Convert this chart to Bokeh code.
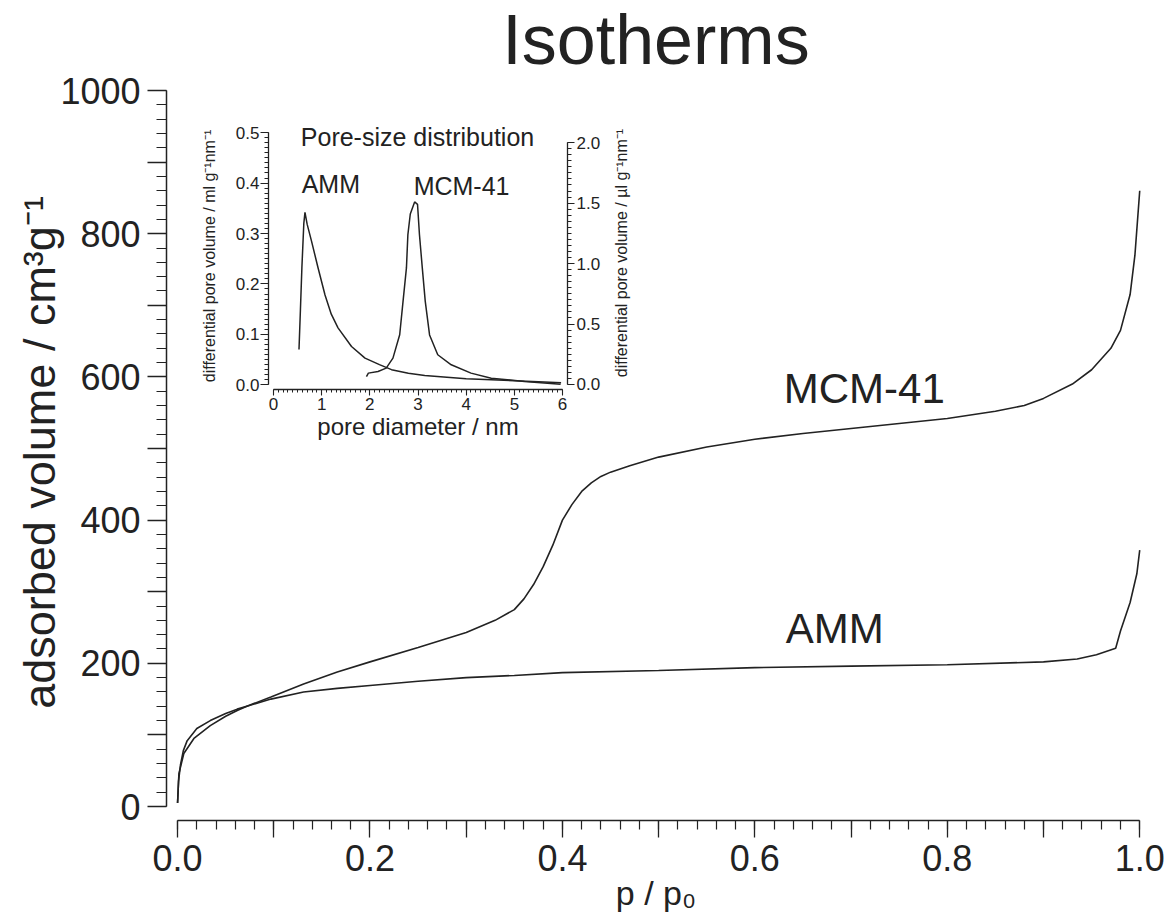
from bokeh.plotting import figure
from bokeh.models import Range1d, FixedTicker, CustomJSTickFormatter, LinearAxis, Div
from bokeh.core.properties import value
from bokeh.layouts import column
from bokeh.embed import file_html
from bokeh.resources import INLINE

# ---------------- data: main isotherms ----------------
amm_p = [0.0, 0.001, 0.003, 0.006, 0.010, 0.020, 0.034, 0.050, 0.062, 0.072, 0.097,
         0.131, 0.166, 0.20, 0.25, 0.30, 0.35, 0.40, 0.50, 0.60, 0.70, 0.80, 0.90,
         0.935, 0.955, 0.975, 0.98, 0.99, 0.997, 1.0]
amm_v = [5, 35, 58, 78, 92, 109, 120, 130, 136, 140, 150,
         160, 165, 169, 175, 180, 183, 187, 190, 194, 196, 198, 202,
         206, 212, 221, 245, 285, 325, 358]

mcm_p = [0.0, 0.0014, 0.0065, 0.017, 0.034, 0.050, 0.062, 0.072, 0.097, 0.131, 0.166,
         0.20, 0.25, 0.30, 0.33, 0.35, 0.36, 0.37, 0.38, 0.39, 0.40, 0.41, 0.42, 0.43,
         0.44, 0.45, 0.47, 0.50, 0.55, 0.60, 0.65, 0.70, 0.75, 0.80, 0.85, 0.88, 0.90,
         0.93, 0.95, 0.97, 0.98, 0.99, 0.995, 1.0]
mcm_v = [5, 46, 74, 95, 113, 126, 134, 140, 153, 171, 188,
         202, 222, 243, 260, 275, 290, 310, 335, 365, 400, 422, 440, 452,
         461, 467, 476, 488, 502, 513, 521, 528, 535, 542, 552, 560, 570,
         590, 610, 640, 665, 715, 770, 860]

# ---------------- data: inset pore-size distribution ----------------
amm_d = [0.53, 0.56, 0.59, 0.63, 0.654, 0.70, 0.79, 0.925, 1.07, 1.20, 1.34, 1.62,
         1.90, 2.20, 2.45, 2.80, 3.14, 3.60, 4.00, 4.52, 5.00, 5.50, 5.97]
amm_dv = [0.070, 0.15, 0.232, 0.32, 0.342, 0.318, 0.285, 0.232, 0.178, 0.140, 0.113, 0.076,
          0.053, 0.040, 0.030, 0.023, 0.0185, 0.015, 0.012, 0.010, 0.008, 0.006, 0.004]

mcm_d = [1.93, 1.97, 2.17, 2.34, 2.48, 2.62, 2.69, 2.76, 2.79, 2.84, 2.93, 2.99, 3.03,
         3.09, 3.15, 3.24, 3.41, 3.69, 4.10, 4.52, 5.21, 5.96]
mcm_dv = [0.066, 0.094, 0.108, 0.135, 0.218, 0.411, 0.69, 0.964, 1.24, 1.41, 1.51, 1.49, 1.24,
          0.96, 0.69, 0.41, 0.246, 0.163, 0.094, 0.052, 0.025, 0.003]

# ---------------- ticks / labels ----------------
x_major = [0.0, 0.1, 0.2, 0.3, 0.4, 0.5, 0.6, 0.7, 0.8, 0.9, 1.0]
x_minor = [i / 50 for i in range(51)]
y_major = [0, 100, 200, 300, 400, 500, 600, 700, 800, 900, 1000]
y_minor = list(range(0, 1001, 20))

ix_major = [0, 1, 2, 3, 4, 5, 6]
ix_minor = [i / 10 for i in range(61)]
iy_major = [0.0, 0.1, 0.2, 0.3, 0.4, 0.5]
iy_minor = [i / 100 for i in range(51)]
ir_major = [0.0, 0.5, 1.0, 1.5, 2.0]
ir_minor = [i / 20 for i in range(41)]

title_text = "Isotherms"
xlabel = "p / p\u2080"
ylabel = "adsorbed volume / cm\u00b3g\u207b\u00b9"
inset_title = "Pore-size distribution"
inset_xlabel = "pore diameter / nm"
inset_ylabel = "differential pore volume / ml g\u207b\u00b9nm\u207b\u00b9"
inset_rlabel = "differential pore volume / \u00b5l g\u207b\u00b9nm\u207b\u00b9"

FONT = "Liberation Sans"
INK = "#222222"
SHIFT = 12  # canvas starts this many px above the page top

# ---------------- main figure ----------------
p = figure(width=1166, height=923 + SHIFT,
           x_range=Range1d(-0.0115, 1.006), y_range=Range1d(-19.55, 1008.4),
           output_backend="svg", toolbar_location=None,
           min_border_left=166, min_border_right=21, min_border_top=84 + SHIFT, min_border_bottom=103)
p.frame_align = False
p.outline_line_color = None
p.xgrid.visible = False
p.ygrid.visible = False

p.title.text = title_text
p.title.text_font = FONT
p.title.text_font_size = "70px"
p.title.text_font_style = "normal"
p.title.text_color = INK
p.title.align = "center"
p.title.standoff = 12

xa = p.xaxis[0]
xa.bounds = (0, 1)
xa.ticker = FixedTicker(ticks=x_major, minor_ticks=x_minor)
xa.formatter = CustomJSTickFormatter(code="return (Math.round(tick*10) % 2 === 0) ? tick.toFixed(1) : '';")
xa.major_tick_out = 17
xa.major_tick_in = 0
xa.minor_tick_out = 9
xa.minor_tick_in = 0
xa.major_label_standoff = 7
xa.major_label_text_font = FONT
xa.major_label_text_font_size = "36px"
xa.major_label_text_color = INK
xa.axis_label = xlabel
xa.axis_label_text_font = FONT
xa.axis_label_text_font_size = "34px"
xa.axis_label_text_font_style = "normal"
xa.axis_label_text_color = INK
xa.axis_label_standoff = 0

ya = p.yaxis[0]
ya.bounds = (0, 1000)
ya.ticker = FixedTicker(ticks=y_major, minor_ticks=y_minor)
ya.formatter = CustomJSTickFormatter(code="return (Math.round(tick) % 200 === 0) ? tick.toFixed(0) : '';")
ya.major_tick_out = 19
ya.major_tick_in = 0
ya.minor_tick_out = 10
ya.minor_tick_in = 0
ya.major_label_standoff = 7
ya.major_label_text_font = FONT
ya.major_label_text_font_size = "36px"
ya.major_label_text_color = INK
ya.axis_label = ylabel
ya.axis_label_text_font = FONT
ya.axis_label_text_font_size = "45px"
ya.axis_label_text_font_style = "normal"
ya.axis_label_text_color = INK
ya.axis_label_standoff = -8

for ax in (xa, ya):
    ax.axis_line_color = INK
    ax.axis_line_width = 1.5
    ax.major_tick_line_color = INK
    ax.major_tick_line_width = 1.3
    ax.minor_tick_line_color = INK
    ax.minor_tick_line_width = 1.2

p.line(mcm_p, mcm_v, line_color=INK, line_width=1.6)
p.line(amm_p, amm_v, line_color=INK, line_width=1.6)

p.text(x=[0.63], y=[584], text=["MCM-41"], text_font=value(FONT), text_font_size="42px",
       text_color=INK, text_align="left", text_baseline="middle")
p.text(x=[0.632], y=[249], text=["AMM"], text_font=value(FONT), text_font_size="42px",
       text_color=INK, text_align="left", text_baseline="middle")

# ---------------- inset ----------------
inset = figure(width=440, height=333,
               x_range=Range1d(-0.103, 6.103), y_range=Range1d(-0.0093, 0.5201),
               output_backend="svg", toolbar_location=None,
               min_border_left=70, min_border_right=70, min_border_top=10, min_border_bottom=56,
               background_fill_alpha=0, border_fill_alpha=0,
               styles={"position": "absolute", "left": "197px", "top": f"{112 + SHIFT}px", "z-index": "10"})
inset.frame_align = False
inset.outline_line_color = None
inset.xgrid.visible = False
inset.ygrid.visible = False
inset.extra_y_ranges = {"right": Range1d(-0.0414, 2.1667)}

ra = LinearAxis(y_range_name="right")
inset.add_layout(ra, "right")

ixa = inset.xaxis[0]
ixa.bounds = (0, 6)
ixa.ticker = FixedTicker(ticks=ix_major, minor_ticks=ix_minor)
ixa.formatter = CustomJSTickFormatter(code="return tick.toFixed(0);")
ixa.major_tick_out = 6
ixa.minor_tick_out = 3
ixa.major_label_standoff = 2
ixa.axis_label = inset_xlabel
ixa.axis_label_text_font_size = "24px"
ixa.axis_label_standoff = 0

iya = inset.yaxis[0]
iya.bounds = (0, 0.5)
iya.ticker = FixedTicker(ticks=iy_major, minor_ticks=iy_minor)
iya.formatter = CustomJSTickFormatter(code="return tick.toFixed(1);")
iya.major_tick_out = 8
iya.minor_tick_out = 4
iya.major_label_standoff = 1
iya.axis_label = inset_ylabel
iya.axis_label_text_font_size = "16px"
iya.axis_label_standoff = 15

ra.bounds = (0, 2)
ra.ticker = FixedTicker(ticks=ir_major, minor_ticks=ir_minor)
ra.formatter = CustomJSTickFormatter(code="return tick.toFixed(1);")
ra.major_tick_out = 7
ra.minor_tick_out = 4
ra.major_label_standoff = 2

for ax in (ixa, iya, ra):
    ax.major_tick_in = 0
    ax.minor_tick_in = 0
    ax.axis_line_color = INK
    ax.axis_line_width = 1.3
    ax.major_tick_line_color = INK
    ax.minor_tick_line_color = INK
    ax.major_tick_line_width = 1.1
    ax.minor_tick_line_width = 1.0
    ax.major_label_text_font = FONT
    ax.major_label_text_font_size = "17px"
    ax.major_label_text_color = INK
    ax.axis_label_text_font = FONT
    ax.axis_label_text_font_style = "normal"
    ax.axis_label_text_color = INK

inset.line(amm_d, amm_dv, line_color=INK, line_width=1.5)
inset.line(mcm_d, mcm_dv, line_color=INK, line_width=1.5, y_range_name="right")

inset.text(x=[2.99], y=[0.4914], text=[inset_title], text_font=value(FONT), text_font_size="25px",
           text_color=INK, text_align="center", text_baseline="middle")
inset.text(x=[0.585], y=[0.399], text=["AMM"], text_font=value(FONT), text_font_size="25px",
           text_color=INK, text_align="left", text_baseline="middle")
inset.text(x=[2.91], y=[0.395], text=["MCM-41"], text_font=value(FONT), text_font_size="25px",
           text_color=INK, text_align="left", text_baseline="middle")

# right-hand axis title of the inset (reads bottom to top)
rlabel = Div(text=inset_rlabel, width=270, height=18,
             styles={"position": "absolute", "left": f"{617 - 135}px", "top": f"{248 + SHIFT - 9}px",
                     "width": "270px", "height": "18px", "transform": "rotate(-90deg)",
                     "font-family": FONT, "font-size": "16px", "line-height": "18px",
                     "color": INK, "text-align": "center", "white-space": "nowrap",
                     "z-index": "11"})

layout = column(p, inset, rlabel, width=1166, height=923 + SHIFT,
                styles={"position": "relative", "margin-top": f"-{SHIFT}px"})

open("out.html", "w").write(file_html(layout, INLINE))
